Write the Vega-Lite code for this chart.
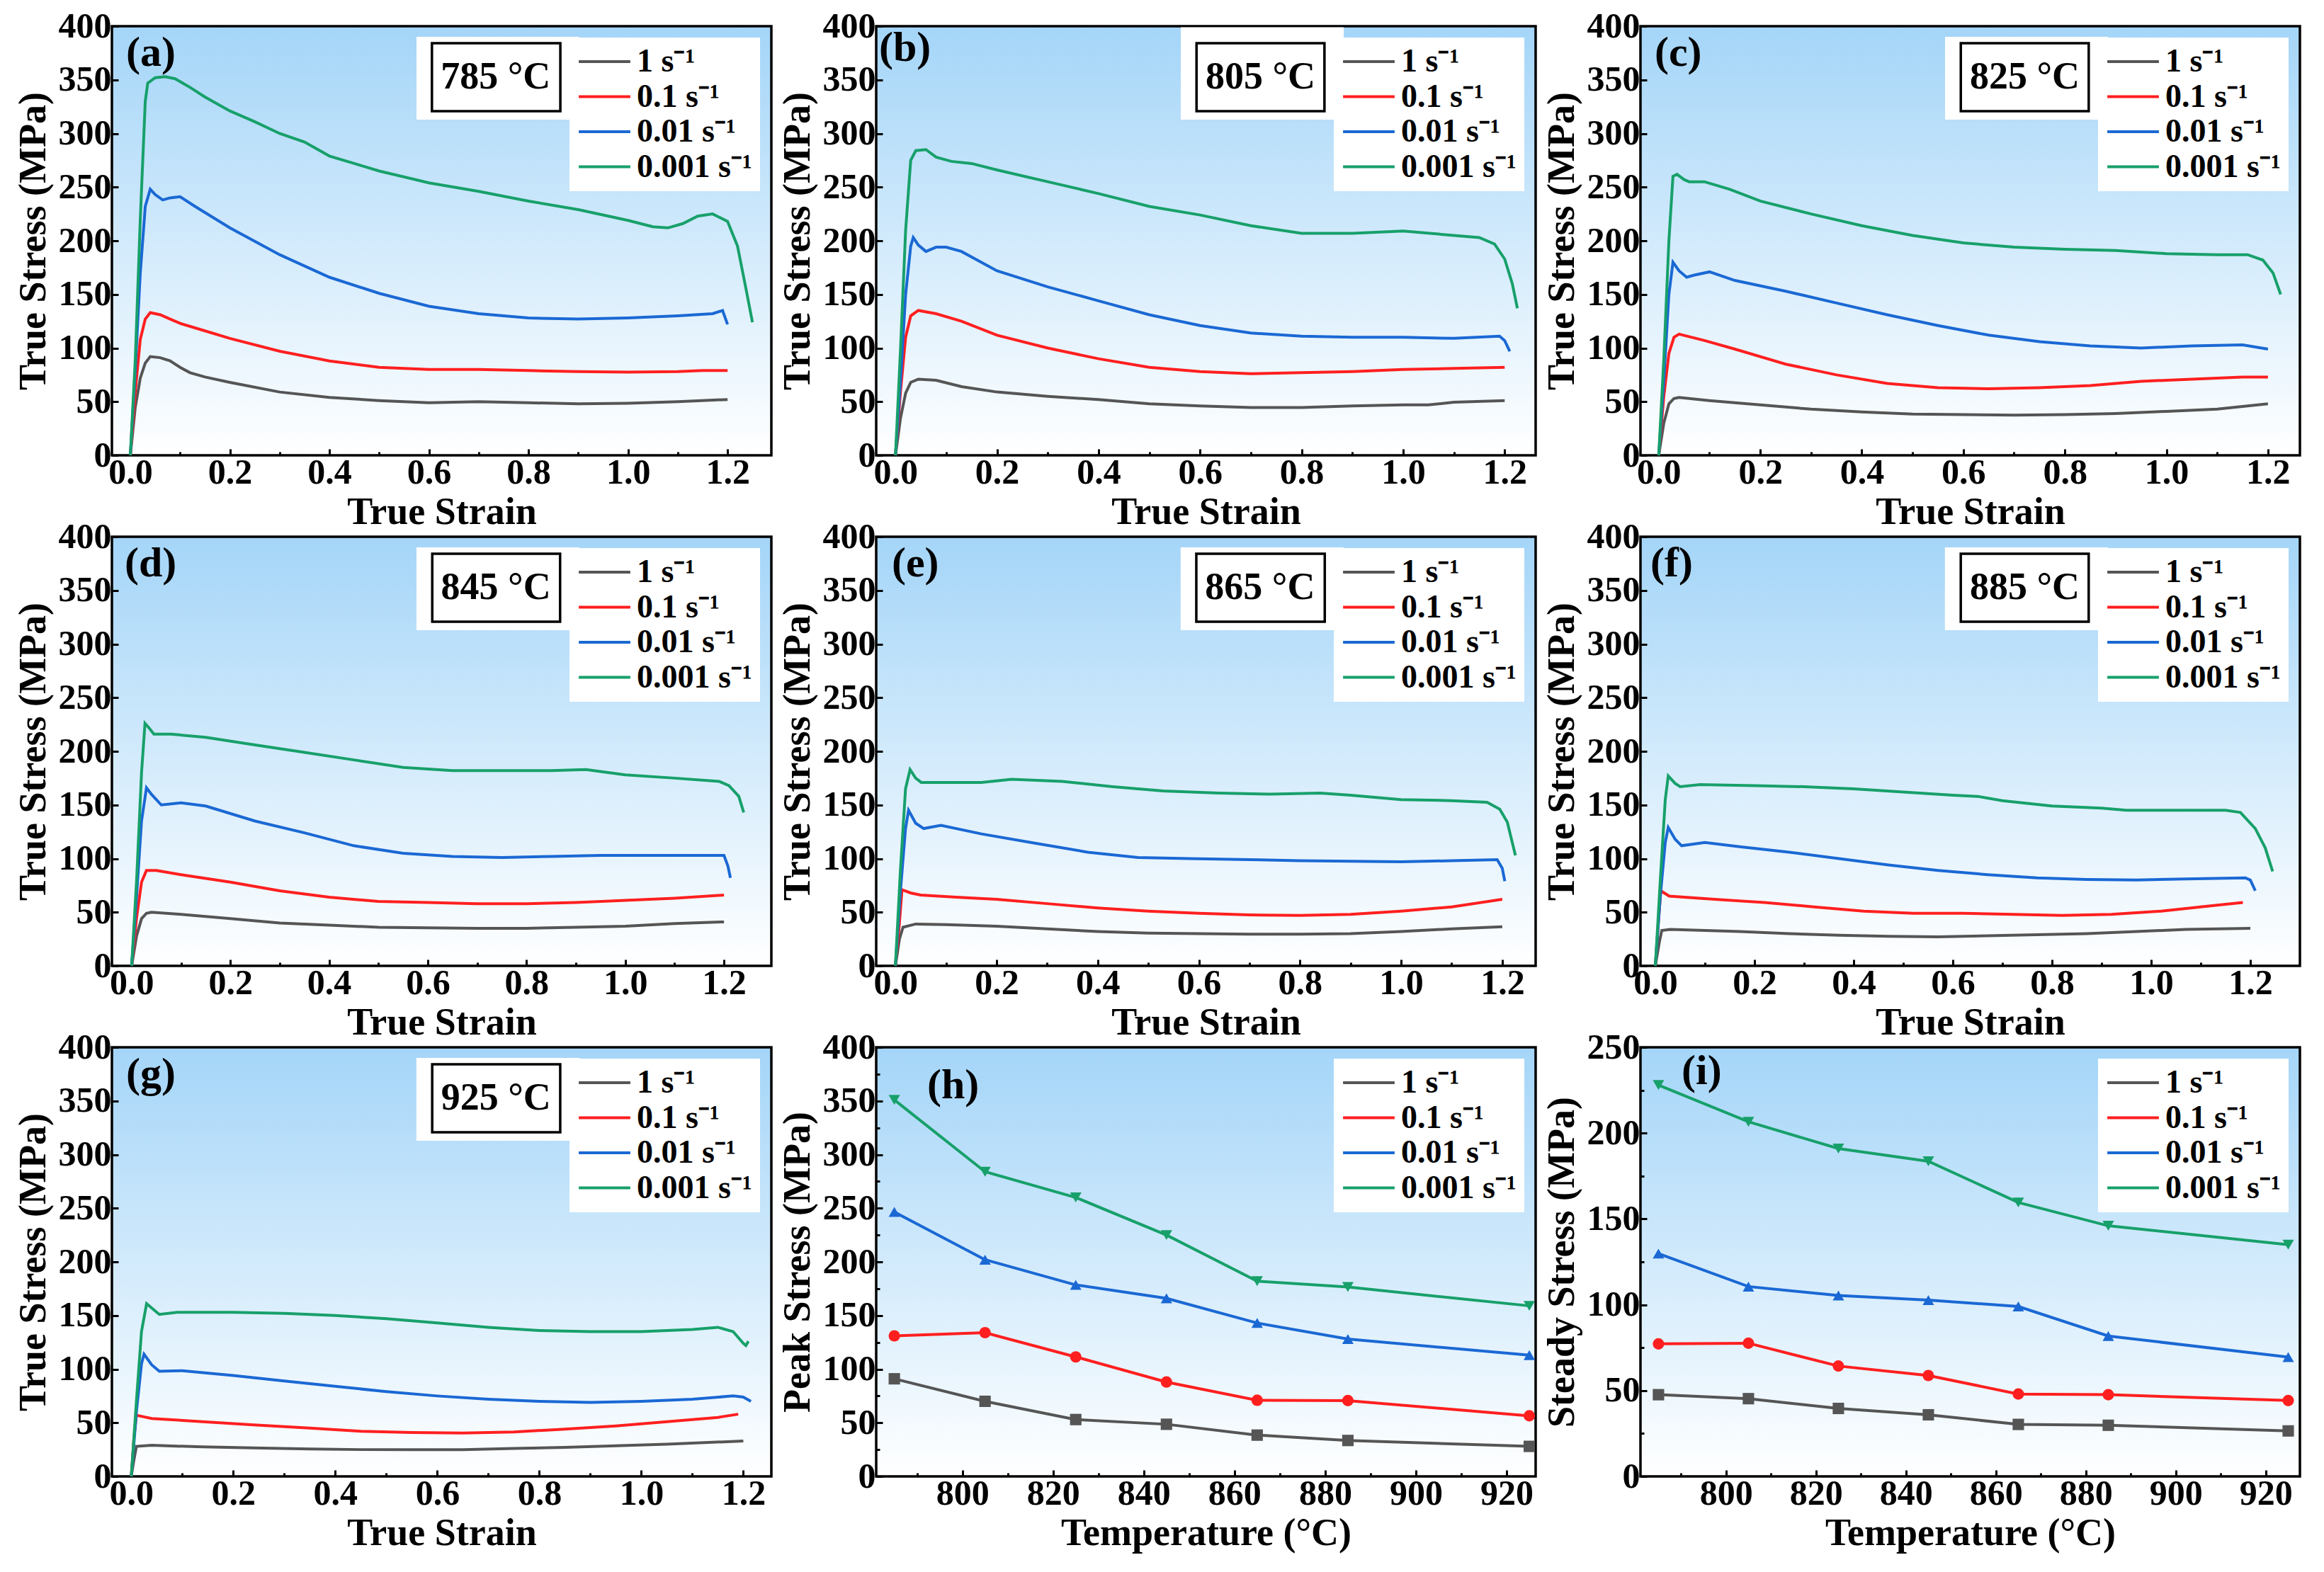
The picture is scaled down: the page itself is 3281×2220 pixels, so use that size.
{
  "$schema": "https://vega.github.io/schema/vega-lite/v6.json",
  "background": "white",
  "padding": {"left": 18, "top": 10, "right": 8, "bottom": 8},
  "columns": 3,
  "spacing": {"row": 115, "column": 148},
  "bounds": "flush",
  "resolve": {"scale": {"color": "independent", "shape": "independent"}, "legend": {"color": "independent"}},
  "datasets": {
    "a": [
      {"rate": "1 s⁻¹", "strain": 0, "stress": 0}, {"rate": "1 s⁻¹", "strain": 0.01, "stress": 45}, {"rate": "1 s⁻¹", "strain": 0.02, "stress": 72}, {"rate": "1 s⁻¹", "strain": 0.03, "stress": 86}, {"rate": "1 s⁻¹", "strain": 0.04, "stress": 92}, {"rate": "1 s⁻¹", "strain": 0.06, "stress": 91}, {"rate": "1 s⁻¹", "strain": 0.08, "stress": 88}, {"rate": "1 s⁻¹", "strain": 0.1, "stress": 82}, {"rate": "1 s⁻¹", "strain": 0.12, "stress": 77}, {"rate": "1 s⁻¹", "strain": 0.15, "stress": 73}, {"rate": "1 s⁻¹", "strain": 0.2, "stress": 68}, {"rate": "1 s⁻¹", "strain": 0.3, "stress": 59}, {"rate": "1 s⁻¹", "strain": 0.4, "stress": 54}, {"rate": "1 s⁻¹", "strain": 0.5, "stress": 51}, {"rate": "1 s⁻¹", "strain": 0.6, "stress": 49}, {"rate": "1 s⁻¹", "strain": 0.7, "stress": 50}, {"rate": "1 s⁻¹", "strain": 0.8, "stress": 49}, {"rate": "1 s⁻¹", "strain": 0.9, "stress": 48}, {"rate": "1 s⁻¹", "strain": 1.0, "stress": 48.5}, {"rate": "1 s⁻¹", "strain": 1.1, "stress": 50}, {"rate": "1 s⁻¹", "strain": 1.2, "stress": 52},
      {"rate": "0.1 s⁻¹", "strain": 0, "stress": 0}, {"rate": "0.1 s⁻¹", "strain": 0.01, "stress": 60}, {"rate": "0.1 s⁻¹", "strain": 0.02, "stress": 108}, {"rate": "0.1 s⁻¹", "strain": 0.03, "stress": 127}, {"rate": "0.1 s⁻¹", "strain": 0.04, "stress": 133}, {"rate": "0.1 s⁻¹", "strain": 0.06, "stress": 131}, {"rate": "0.1 s⁻¹", "strain": 0.08, "stress": 127}, {"rate": "0.1 s⁻¹", "strain": 0.1, "stress": 123}, {"rate": "0.1 s⁻¹", "strain": 0.15, "stress": 116}, {"rate": "0.1 s⁻¹", "strain": 0.2, "stress": 109}, {"rate": "0.1 s⁻¹", "strain": 0.3, "stress": 97}, {"rate": "0.1 s⁻¹", "strain": 0.4, "stress": 88}, {"rate": "0.1 s⁻¹", "strain": 0.5, "stress": 82}, {"rate": "0.1 s⁻¹", "strain": 0.6, "stress": 80}, {"rate": "0.1 s⁻¹", "strain": 0.7, "stress": 80}, {"rate": "0.1 s⁻¹", "strain": 0.8, "stress": 79}, {"rate": "0.1 s⁻¹", "strain": 0.9, "stress": 78}, {"rate": "0.1 s⁻¹", "strain": 1.0, "stress": 77.5}, {"rate": "0.1 s⁻¹", "strain": 1.1, "stress": 78}, {"rate": "0.1 s⁻¹", "strain": 1.15, "stress": 79}, {"rate": "0.1 s⁻¹", "strain": 1.2, "stress": 79},
      {"rate": "0.01 s⁻¹", "strain": 0, "stress": 0}, {"rate": "0.01 s⁻¹", "strain": 0.01, "stress": 80}, {"rate": "0.01 s⁻¹", "strain": 0.02, "stress": 170}, {"rate": "0.01 s⁻¹", "strain": 0.03, "stress": 232}, {"rate": "0.01 s⁻¹", "strain": 0.04, "stress": 248}, {"rate": "0.01 s⁻¹", "strain": 0.05, "stress": 243}, {"rate": "0.01 s⁻¹", "strain": 0.065, "stress": 238}, {"rate": "0.01 s⁻¹", "strain": 0.08, "stress": 240}, {"rate": "0.01 s⁻¹", "strain": 0.1, "stress": 241}, {"rate": "0.01 s⁻¹", "strain": 0.13, "stress": 232}, {"rate": "0.01 s⁻¹", "strain": 0.2, "stress": 212}, {"rate": "0.01 s⁻¹", "strain": 0.3, "stress": 187}, {"rate": "0.01 s⁻¹", "strain": 0.4, "stress": 166}, {"rate": "0.01 s⁻¹", "strain": 0.5, "stress": 151}, {"rate": "0.01 s⁻¹", "strain": 0.6, "stress": 139}, {"rate": "0.01 s⁻¹", "strain": 0.7, "stress": 132}, {"rate": "0.01 s⁻¹", "strain": 0.8, "stress": 128}, {"rate": "0.01 s⁻¹", "strain": 0.9, "stress": 127}, {"rate": "0.01 s⁻¹", "strain": 1.0, "stress": 128}, {"rate": "0.01 s⁻¹", "strain": 1.1, "stress": 130}, {"rate": "0.01 s⁻¹", "strain": 1.17, "stress": 132}, {"rate": "0.01 s⁻¹", "strain": 1.19, "stress": 135}, {"rate": "0.01 s⁻¹", "strain": 1.2, "stress": 122},
      {"rate": "0.001 s⁻¹", "strain": 0, "stress": 0}, {"rate": "0.001 s⁻¹", "strain": 0.01, "stress": 90}, {"rate": "0.001 s⁻¹", "strain": 0.02, "stress": 220}, {"rate": "0.001 s⁻¹", "strain": 0.03, "stress": 330}, {"rate": "0.001 s⁻¹", "strain": 0.035, "stress": 347}, {"rate": "0.001 s⁻¹", "strain": 0.05, "stress": 352}, {"rate": "0.001 s⁻¹", "strain": 0.07, "stress": 353}, {"rate": "0.001 s⁻¹", "strain": 0.09, "stress": 351}, {"rate": "0.001 s⁻¹", "strain": 0.12, "stress": 343}, {"rate": "0.001 s⁻¹", "strain": 0.15, "stress": 334}, {"rate": "0.001 s⁻¹", "strain": 0.2, "stress": 321}, {"rate": "0.001 s⁻¹", "strain": 0.25, "stress": 311}, {"rate": "0.001 s⁻¹", "strain": 0.3, "stress": 300}, {"rate": "0.001 s⁻¹", "strain": 0.35, "stress": 292}, {"rate": "0.001 s⁻¹", "strain": 0.4, "stress": 279}, {"rate": "0.001 s⁻¹", "strain": 0.45, "stress": 272}, {"rate": "0.001 s⁻¹", "strain": 0.5, "stress": 265}, {"rate": "0.001 s⁻¹", "strain": 0.6, "stress": 254}, {"rate": "0.001 s⁻¹", "strain": 0.7, "stress": 246}, {"rate": "0.001 s⁻¹", "strain": 0.8, "stress": 237}, {"rate": "0.001 s⁻¹", "strain": 0.9, "stress": 229}, {"rate": "0.001 s⁻¹", "strain": 1.0, "stress": 219}, {"rate": "0.001 s⁻¹", "strain": 1.05, "stress": 213}, {"rate": "0.001 s⁻¹", "strain": 1.08, "stress": 212}, {"rate": "0.001 s⁻¹", "strain": 1.11, "stress": 216}, {"rate": "0.001 s⁻¹", "strain": 1.14, "stress": 223}, {"rate": "0.001 s⁻¹", "strain": 1.17, "stress": 225}, {"rate": "0.001 s⁻¹", "strain": 1.2, "stress": 218}, {"rate": "0.001 s⁻¹", "strain": 1.22, "stress": 195}, {"rate": "0.001 s⁻¹", "strain": 1.235, "stress": 160}, {"rate": "0.001 s⁻¹", "strain": 1.25, "stress": 124}
    ],
    "b": [
      {"rate": "1 s⁻¹", "strain": 0, "stress": 0}, {"rate": "1 s⁻¹", "strain": 0.01, "stress": 35}, {"rate": "1 s⁻¹", "strain": 0.02, "stress": 58}, {"rate": "1 s⁻¹", "strain": 0.03, "stress": 68}, {"rate": "1 s⁻¹", "strain": 0.045, "stress": 71}, {"rate": "1 s⁻¹", "strain": 0.08, "stress": 70}, {"rate": "1 s⁻¹", "strain": 0.13, "stress": 64}, {"rate": "1 s⁻¹", "strain": 0.2, "stress": 59}, {"rate": "1 s⁻¹", "strain": 0.3, "stress": 55}, {"rate": "1 s⁻¹", "strain": 0.4, "stress": 52}, {"rate": "1 s⁻¹", "strain": 0.5, "stress": 48}, {"rate": "1 s⁻¹", "strain": 0.6, "stress": 46}, {"rate": "1 s⁻¹", "strain": 0.7, "stress": 44.5}, {"rate": "1 s⁻¹", "strain": 0.8, "stress": 44.5}, {"rate": "1 s⁻¹", "strain": 0.9, "stress": 46}, {"rate": "1 s⁻¹", "strain": 1.0, "stress": 47}, {"rate": "1 s⁻¹", "strain": 1.05, "stress": 47}, {"rate": "1 s⁻¹", "strain": 1.1, "stress": 49.5}, {"rate": "1 s⁻¹", "strain": 1.2, "stress": 51},
      {"rate": "0.1 s⁻¹", "strain": 0, "stress": 0}, {"rate": "0.1 s⁻¹", "strain": 0.01, "stress": 60}, {"rate": "0.1 s⁻¹", "strain": 0.02, "stress": 110}, {"rate": "0.1 s⁻¹", "strain": 0.03, "stress": 130}, {"rate": "0.1 s⁻¹", "strain": 0.045, "stress": 135}, {"rate": "0.1 s⁻¹", "strain": 0.08, "stress": 132}, {"rate": "0.1 s⁻¹", "strain": 0.13, "stress": 125}, {"rate": "0.1 s⁻¹", "strain": 0.2, "stress": 112}, {"rate": "0.1 s⁻¹", "strain": 0.3, "stress": 100}, {"rate": "0.1 s⁻¹", "strain": 0.4, "stress": 90}, {"rate": "0.1 s⁻¹", "strain": 0.5, "stress": 82}, {"rate": "0.1 s⁻¹", "strain": 0.6, "stress": 78}, {"rate": "0.1 s⁻¹", "strain": 0.7, "stress": 76}, {"rate": "0.1 s⁻¹", "strain": 0.8, "stress": 77}, {"rate": "0.1 s⁻¹", "strain": 0.9, "stress": 78}, {"rate": "0.1 s⁻¹", "strain": 1.0, "stress": 80}, {"rate": "0.1 s⁻¹", "strain": 1.1, "stress": 81}, {"rate": "0.1 s⁻¹", "strain": 1.2, "stress": 82},
      {"rate": "0.01 s⁻¹", "strain": 0, "stress": 0}, {"rate": "0.01 s⁻¹", "strain": 0.01, "stress": 70}, {"rate": "0.01 s⁻¹", "strain": 0.02, "stress": 150}, {"rate": "0.01 s⁻¹", "strain": 0.03, "stress": 195}, {"rate": "0.01 s⁻¹", "strain": 0.035, "stress": 203}, {"rate": "0.01 s⁻¹", "strain": 0.045, "stress": 196}, {"rate": "0.01 s⁻¹", "strain": 0.06, "stress": 190}, {"rate": "0.01 s⁻¹", "strain": 0.08, "stress": 194}, {"rate": "0.01 s⁻¹", "strain": 0.1, "stress": 194}, {"rate": "0.01 s⁻¹", "strain": 0.13, "stress": 190}, {"rate": "0.01 s⁻¹", "strain": 0.2, "stress": 172}, {"rate": "0.01 s⁻¹", "strain": 0.3, "stress": 157}, {"rate": "0.01 s⁻¹", "strain": 0.4, "stress": 144}, {"rate": "0.01 s⁻¹", "strain": 0.5, "stress": 131}, {"rate": "0.01 s⁻¹", "strain": 0.6, "stress": 121}, {"rate": "0.01 s⁻¹", "strain": 0.7, "stress": 114}, {"rate": "0.01 s⁻¹", "strain": 0.8, "stress": 111}, {"rate": "0.01 s⁻¹", "strain": 0.9, "stress": 110}, {"rate": "0.01 s⁻¹", "strain": 1.0, "stress": 110}, {"rate": "0.01 s⁻¹", "strain": 1.1, "stress": 109}, {"rate": "0.01 s⁻¹", "strain": 1.19, "stress": 111}, {"rate": "0.01 s⁻¹", "strain": 1.2, "stress": 107}, {"rate": "0.01 s⁻¹", "strain": 1.21, "stress": 97},
      {"rate": "0.001 s⁻¹", "strain": 0, "stress": 0}, {"rate": "0.001 s⁻¹", "strain": 0.01, "stress": 100}, {"rate": "0.001 s⁻¹", "strain": 0.02, "stress": 210}, {"rate": "0.001 s⁻¹", "strain": 0.03, "stress": 275}, {"rate": "0.001 s⁻¹", "strain": 0.04, "stress": 284}, {"rate": "0.001 s⁻¹", "strain": 0.06, "stress": 285}, {"rate": "0.001 s⁻¹", "strain": 0.08, "stress": 278}, {"rate": "0.001 s⁻¹", "strain": 0.11, "stress": 274}, {"rate": "0.001 s⁻¹", "strain": 0.15, "stress": 272}, {"rate": "0.001 s⁻¹", "strain": 0.2, "stress": 266}, {"rate": "0.001 s⁻¹", "strain": 0.3, "stress": 255}, {"rate": "0.001 s⁻¹", "strain": 0.4, "stress": 244}, {"rate": "0.001 s⁻¹", "strain": 0.5, "stress": 232}, {"rate": "0.001 s⁻¹", "strain": 0.6, "stress": 224}, {"rate": "0.001 s⁻¹", "strain": 0.7, "stress": 214}, {"rate": "0.001 s⁻¹", "strain": 0.8, "stress": 207}, {"rate": "0.001 s⁻¹", "strain": 0.9, "stress": 207}, {"rate": "0.001 s⁻¹", "strain": 1.0, "stress": 209}, {"rate": "0.001 s⁻¹", "strain": 1.1, "stress": 205}, {"rate": "0.001 s⁻¹", "strain": 1.15, "stress": 203}, {"rate": "0.001 s⁻¹", "strain": 1.18, "stress": 197}, {"rate": "0.001 s⁻¹", "strain": 1.2, "stress": 183}, {"rate": "0.001 s⁻¹", "strain": 1.215, "stress": 160}, {"rate": "0.001 s⁻¹", "strain": 1.225, "stress": 137}
    ],
    "c": [
      {"rate": "1 s⁻¹", "strain": 0, "stress": 0}, {"rate": "1 s⁻¹", "strain": 0.01, "stress": 30}, {"rate": "1 s⁻¹", "strain": 0.02, "stress": 48}, {"rate": "1 s⁻¹", "strain": 0.03, "stress": 53}, {"rate": "1 s⁻¹", "strain": 0.04, "stress": 54}, {"rate": "1 s⁻¹", "strain": 0.1, "stress": 51}, {"rate": "1 s⁻¹", "strain": 0.2, "stress": 47}, {"rate": "1 s⁻¹", "strain": 0.3, "stress": 43}, {"rate": "1 s⁻¹", "strain": 0.4, "stress": 40.5}, {"rate": "1 s⁻¹", "strain": 0.5, "stress": 38.5}, {"rate": "1 s⁻¹", "strain": 0.6, "stress": 38}, {"rate": "1 s⁻¹", "strain": 0.7, "stress": 37.5}, {"rate": "1 s⁻¹", "strain": 0.8, "stress": 38}, {"rate": "1 s⁻¹", "strain": 0.9, "stress": 39}, {"rate": "1 s⁻¹", "strain": 1.0, "stress": 41}, {"rate": "1 s⁻¹", "strain": 1.1, "stress": 43}, {"rate": "1 s⁻¹", "strain": 1.2, "stress": 48},
      {"rate": "0.1 s⁻¹", "strain": 0, "stress": 0}, {"rate": "0.1 s⁻¹", "strain": 0.01, "stress": 55}, {"rate": "0.1 s⁻¹", "strain": 0.02, "stress": 95}, {"rate": "0.1 s⁻¹", "strain": 0.03, "stress": 110}, {"rate": "0.1 s⁻¹", "strain": 0.04, "stress": 113}, {"rate": "0.1 s⁻¹", "strain": 0.09, "stress": 107}, {"rate": "0.1 s⁻¹", "strain": 0.15, "stress": 99}, {"rate": "0.1 s⁻¹", "strain": 0.25, "stress": 85}, {"rate": "0.1 s⁻¹", "strain": 0.35, "stress": 75}, {"rate": "0.1 s⁻¹", "strain": 0.45, "stress": 67}, {"rate": "0.1 s⁻¹", "strain": 0.55, "stress": 63}, {"rate": "0.1 s⁻¹", "strain": 0.65, "stress": 62}, {"rate": "0.1 s⁻¹", "strain": 0.75, "stress": 63}, {"rate": "0.1 s⁻¹", "strain": 0.85, "stress": 65}, {"rate": "0.1 s⁻¹", "strain": 0.95, "stress": 69}, {"rate": "0.1 s⁻¹", "strain": 1.05, "stress": 71}, {"rate": "0.1 s⁻¹", "strain": 1.15, "stress": 73}, {"rate": "0.1 s⁻¹", "strain": 1.2, "stress": 73},
      {"rate": "0.01 s⁻¹", "strain": 0, "stress": 0}, {"rate": "0.01 s⁻¹", "strain": 0.01, "stress": 70}, {"rate": "0.01 s⁻¹", "strain": 0.02, "stress": 150}, {"rate": "0.01 s⁻¹", "strain": 0.028, "stress": 180}, {"rate": "0.01 s⁻¹", "strain": 0.04, "stress": 172}, {"rate": "0.01 s⁻¹", "strain": 0.055, "stress": 166}, {"rate": "0.01 s⁻¹", "strain": 0.07, "stress": 168}, {"rate": "0.01 s⁻¹", "strain": 0.1, "stress": 171}, {"rate": "0.01 s⁻¹", "strain": 0.15, "stress": 163}, {"rate": "0.01 s⁻¹", "strain": 0.25, "stress": 153}, {"rate": "0.01 s⁻¹", "strain": 0.35, "stress": 142}, {"rate": "0.01 s⁻¹", "strain": 0.45, "stress": 131}, {"rate": "0.01 s⁻¹", "strain": 0.55, "stress": 121}, {"rate": "0.01 s⁻¹", "strain": 0.65, "stress": 112}, {"rate": "0.01 s⁻¹", "strain": 0.75, "stress": 106}, {"rate": "0.01 s⁻¹", "strain": 0.85, "stress": 102}, {"rate": "0.01 s⁻¹", "strain": 0.95, "stress": 100}, {"rate": "0.01 s⁻¹", "strain": 1.05, "stress": 102}, {"rate": "0.01 s⁻¹", "strain": 1.15, "stress": 103}, {"rate": "0.01 s⁻¹", "strain": 1.2, "stress": 99},
      {"rate": "0.001 s⁻¹", "strain": 0, "stress": 0}, {"rate": "0.001 s⁻¹", "strain": 0.01, "stress": 90}, {"rate": "0.001 s⁻¹", "strain": 0.02, "stress": 200}, {"rate": "0.001 s⁻¹", "strain": 0.028, "stress": 260}, {"rate": "0.001 s⁻¹", "strain": 0.036, "stress": 262}, {"rate": "0.001 s⁻¹", "strain": 0.05, "stress": 257}, {"rate": "0.001 s⁻¹", "strain": 0.06, "stress": 255}, {"rate": "0.001 s⁻¹", "strain": 0.09, "stress": 255}, {"rate": "0.001 s⁻¹", "strain": 0.14, "stress": 248}, {"rate": "0.001 s⁻¹", "strain": 0.2, "stress": 237}, {"rate": "0.001 s⁻¹", "strain": 0.3, "stress": 225}, {"rate": "0.001 s⁻¹", "strain": 0.4, "stress": 214}, {"rate": "0.001 s⁻¹", "strain": 0.5, "stress": 205}, {"rate": "0.001 s⁻¹", "strain": 0.6, "stress": 198}, {"rate": "0.001 s⁻¹", "strain": 0.7, "stress": 194}, {"rate": "0.001 s⁻¹", "strain": 0.8, "stress": 192}, {"rate": "0.001 s⁻¹", "strain": 0.9, "stress": 191}, {"rate": "0.001 s⁻¹", "strain": 1.0, "stress": 188}, {"rate": "0.001 s⁻¹", "strain": 1.1, "stress": 187}, {"rate": "0.001 s⁻¹", "strain": 1.16, "stress": 187}, {"rate": "0.001 s⁻¹", "strain": 1.19, "stress": 182}, {"rate": "0.001 s⁻¹", "strain": 1.21, "stress": 170}, {"rate": "0.001 s⁻¹", "strain": 1.225, "stress": 150}
    ],
    "d": [
      {"rate": "1 s⁻¹", "strain": 0, "stress": 0}, {"rate": "1 s⁻¹", "strain": 0.01, "stress": 28}, {"rate": "1 s⁻¹", "strain": 0.02, "stress": 44}, {"rate": "1 s⁻¹", "strain": 0.03, "stress": 49}, {"rate": "1 s⁻¹", "strain": 0.04, "stress": 50}, {"rate": "1 s⁻¹", "strain": 0.1, "stress": 48}, {"rate": "1 s⁻¹", "strain": 0.2, "stress": 44}, {"rate": "1 s⁻¹", "strain": 0.3, "stress": 40}, {"rate": "1 s⁻¹", "strain": 0.4, "stress": 38}, {"rate": "1 s⁻¹", "strain": 0.5, "stress": 36}, {"rate": "1 s⁻¹", "strain": 0.6, "stress": 35.5}, {"rate": "1 s⁻¹", "strain": 0.7, "stress": 35}, {"rate": "1 s⁻¹", "strain": 0.8, "stress": 35}, {"rate": "1 s⁻¹", "strain": 0.9, "stress": 36}, {"rate": "1 s⁻¹", "strain": 1.0, "stress": 37}, {"rate": "1 s⁻¹", "strain": 1.1, "stress": 39.5}, {"rate": "1 s⁻¹", "strain": 1.2, "stress": 41},
      {"rate": "0.1 s⁻¹", "strain": 0, "stress": 0}, {"rate": "0.1 s⁻¹", "strain": 0.01, "stress": 45}, {"rate": "0.1 s⁻¹", "strain": 0.02, "stress": 78}, {"rate": "0.1 s⁻¹", "strain": 0.03, "stress": 89}, {"rate": "0.1 s⁻¹", "strain": 0.05, "stress": 89}, {"rate": "0.1 s⁻¹", "strain": 0.1, "stress": 85}, {"rate": "0.1 s⁻¹", "strain": 0.2, "stress": 78}, {"rate": "0.1 s⁻¹", "strain": 0.3, "stress": 70}, {"rate": "0.1 s⁻¹", "strain": 0.4, "stress": 64}, {"rate": "0.1 s⁻¹", "strain": 0.5, "stress": 60}, {"rate": "0.1 s⁻¹", "strain": 0.6, "stress": 59}, {"rate": "0.1 s⁻¹", "strain": 0.7, "stress": 58}, {"rate": "0.1 s⁻¹", "strain": 0.8, "stress": 58}, {"rate": "0.1 s⁻¹", "strain": 0.9, "stress": 59}, {"rate": "0.1 s⁻¹", "strain": 1.0, "stress": 61}, {"rate": "0.1 s⁻¹", "strain": 1.1, "stress": 63}, {"rate": "0.1 s⁻¹", "strain": 1.2, "stress": 66},
      {"rate": "0.01 s⁻¹", "strain": 0, "stress": 0}, {"rate": "0.01 s⁻¹", "strain": 0.01, "stress": 65}, {"rate": "0.01 s⁻¹", "strain": 0.02, "stress": 135}, {"rate": "0.01 s⁻¹", "strain": 0.03, "stress": 166}, {"rate": "0.01 s⁻¹", "strain": 0.04, "stress": 160}, {"rate": "0.01 s⁻¹", "strain": 0.06, "stress": 150}, {"rate": "0.01 s⁻¹", "strain": 0.08, "stress": 151}, {"rate": "0.01 s⁻¹", "strain": 0.1, "stress": 152}, {"rate": "0.01 s⁻¹", "strain": 0.15, "stress": 149}, {"rate": "0.01 s⁻¹", "strain": 0.25, "stress": 135}, {"rate": "0.01 s⁻¹", "strain": 0.35, "stress": 124}, {"rate": "0.01 s⁻¹", "strain": 0.45, "stress": 112}, {"rate": "0.01 s⁻¹", "strain": 0.55, "stress": 105}, {"rate": "0.01 s⁻¹", "strain": 0.65, "stress": 102}, {"rate": "0.01 s⁻¹", "strain": 0.75, "stress": 101}, {"rate": "0.01 s⁻¹", "strain": 0.85, "stress": 102}, {"rate": "0.01 s⁻¹", "strain": 0.95, "stress": 103}, {"rate": "0.01 s⁻¹", "strain": 1.05, "stress": 103}, {"rate": "0.01 s⁻¹", "strain": 1.15, "stress": 103}, {"rate": "0.01 s⁻¹", "strain": 1.2, "stress": 103}, {"rate": "0.01 s⁻¹", "strain": 1.208, "stress": 93}, {"rate": "0.01 s⁻¹", "strain": 1.213, "stress": 82},
      {"rate": "0.001 s⁻¹", "strain": 0, "stress": 0}, {"rate": "0.001 s⁻¹", "strain": 0.01, "stress": 80}, {"rate": "0.001 s⁻¹", "strain": 0.02, "stress": 180}, {"rate": "0.001 s⁻¹", "strain": 0.027, "stress": 226}, {"rate": "0.001 s⁻¹", "strain": 0.035, "stress": 222}, {"rate": "0.001 s⁻¹", "strain": 0.045, "stress": 216}, {"rate": "0.001 s⁻¹", "strain": 0.08, "stress": 216}, {"rate": "0.001 s⁻¹", "strain": 0.15, "stress": 213}, {"rate": "0.001 s⁻¹", "strain": 0.25, "stress": 206}, {"rate": "0.001 s⁻¹", "strain": 0.35, "stress": 199}, {"rate": "0.001 s⁻¹", "strain": 0.45, "stress": 192}, {"rate": "0.001 s⁻¹", "strain": 0.55, "stress": 185}, {"rate": "0.001 s⁻¹", "strain": 0.65, "stress": 182}, {"rate": "0.001 s⁻¹", "strain": 0.75, "stress": 182}, {"rate": "0.001 s⁻¹", "strain": 0.85, "stress": 182}, {"rate": "0.001 s⁻¹", "strain": 0.92, "stress": 183}, {"rate": "0.001 s⁻¹", "strain": 1.0, "stress": 178}, {"rate": "0.001 s⁻¹", "strain": 1.1, "stress": 175}, {"rate": "0.001 s⁻¹", "strain": 1.19, "stress": 172}, {"rate": "0.001 s⁻¹", "strain": 1.21, "stress": 168}, {"rate": "0.001 s⁻¹", "strain": 1.23, "stress": 158}, {"rate": "0.001 s⁻¹", "strain": 1.24, "stress": 143}
    ],
    "e": [
      {"rate": "1 s⁻¹", "strain": 0, "stress": 0}, {"rate": "1 s⁻¹", "strain": 0.008, "stress": 25}, {"rate": "1 s⁻¹", "strain": 0.015, "stress": 36}, {"rate": "1 s⁻¹", "strain": 0.04, "stress": 39}, {"rate": "1 s⁻¹", "strain": 0.1, "stress": 38.5}, {"rate": "1 s⁻¹", "strain": 0.2, "stress": 37}, {"rate": "1 s⁻¹", "strain": 0.3, "stress": 34.5}, {"rate": "1 s⁻¹", "strain": 0.4, "stress": 32}, {"rate": "1 s⁻¹", "strain": 0.5, "stress": 30.5}, {"rate": "1 s⁻¹", "strain": 0.6, "stress": 30}, {"rate": "1 s⁻¹", "strain": 0.7, "stress": 29.5}, {"rate": "1 s⁻¹", "strain": 0.8, "stress": 29.5}, {"rate": "1 s⁻¹", "strain": 0.9, "stress": 30}, {"rate": "1 s⁻¹", "strain": 1.0, "stress": 32}, {"rate": "1 s⁻¹", "strain": 1.1, "stress": 34.5}, {"rate": "1 s⁻¹", "strain": 1.2, "stress": 36.5},
      {"rate": "0.1 s⁻¹", "strain": 0, "stress": 0}, {"rate": "0.1 s⁻¹", "strain": 0.008, "stress": 40}, {"rate": "0.1 s⁻¹", "strain": 0.013, "stress": 71}, {"rate": "0.1 s⁻¹", "strain": 0.03, "stress": 68}, {"rate": "0.1 s⁻¹", "strain": 0.05, "stress": 66}, {"rate": "0.1 s⁻¹", "strain": 0.12, "stress": 64}, {"rate": "0.1 s⁻¹", "strain": 0.2, "stress": 62}, {"rate": "0.1 s⁻¹", "strain": 0.3, "stress": 58}, {"rate": "0.1 s⁻¹", "strain": 0.4, "stress": 54}, {"rate": "0.1 s⁻¹", "strain": 0.5, "stress": 51}, {"rate": "0.1 s⁻¹", "strain": 0.6, "stress": 49}, {"rate": "0.1 s⁻¹", "strain": 0.7, "stress": 47.5}, {"rate": "0.1 s⁻¹", "strain": 0.8, "stress": 47}, {"rate": "0.1 s⁻¹", "strain": 0.9, "stress": 48}, {"rate": "0.1 s⁻¹", "strain": 1.0, "stress": 51}, {"rate": "0.1 s⁻¹", "strain": 1.1, "stress": 55}, {"rate": "0.1 s⁻¹", "strain": 1.2, "stress": 62},
      {"rate": "0.01 s⁻¹", "strain": 0, "stress": 0}, {"rate": "0.01 s⁻¹", "strain": 0.01, "stress": 70}, {"rate": "0.01 s⁻¹", "strain": 0.02, "stress": 128}, {"rate": "0.01 s⁻¹", "strain": 0.026, "stress": 145}, {"rate": "0.01 s⁻¹", "strain": 0.04, "stress": 133}, {"rate": "0.01 s⁻¹", "strain": 0.056, "stress": 128}, {"rate": "0.01 s⁻¹", "strain": 0.09, "stress": 131}, {"rate": "0.01 s⁻¹", "strain": 0.17, "stress": 123}, {"rate": "0.01 s⁻¹", "strain": 0.28, "stress": 114}, {"rate": "0.01 s⁻¹", "strain": 0.38, "stress": 106}, {"rate": "0.01 s⁻¹", "strain": 0.48, "stress": 101}, {"rate": "0.01 s⁻¹", "strain": 0.58, "stress": 100}, {"rate": "0.01 s⁻¹", "strain": 0.7, "stress": 99}, {"rate": "0.01 s⁻¹", "strain": 0.8, "stress": 98}, {"rate": "0.01 s⁻¹", "strain": 0.9, "stress": 97.5}, {"rate": "0.01 s⁻¹", "strain": 1.0, "stress": 97}, {"rate": "0.01 s⁻¹", "strain": 1.1, "stress": 98}, {"rate": "0.01 s⁻¹", "strain": 1.19, "stress": 99}, {"rate": "0.01 s⁻¹", "strain": 1.2, "stress": 91}, {"rate": "0.01 s⁻¹", "strain": 1.205, "stress": 79},
      {"rate": "0.001 s⁻¹", "strain": 0, "stress": 0}, {"rate": "0.001 s⁻¹", "strain": 0.01, "stress": 90}, {"rate": "0.001 s⁻¹", "strain": 0.02, "stress": 165}, {"rate": "0.001 s⁻¹", "strain": 0.029, "stress": 183}, {"rate": "0.001 s⁻¹", "strain": 0.04, "stress": 175}, {"rate": "0.001 s⁻¹", "strain": 0.051, "stress": 171}, {"rate": "0.001 s⁻¹", "strain": 0.1, "stress": 171}, {"rate": "0.001 s⁻¹", "strain": 0.17, "stress": 171}, {"rate": "0.001 s⁻¹", "strain": 0.23, "stress": 174}, {"rate": "0.001 s⁻¹", "strain": 0.33, "stress": 172}, {"rate": "0.001 s⁻¹", "strain": 0.43, "stress": 167}, {"rate": "0.001 s⁻¹", "strain": 0.53, "stress": 163}, {"rate": "0.001 s⁻¹", "strain": 0.64, "stress": 161}, {"rate": "0.001 s⁻¹", "strain": 0.74, "stress": 160}, {"rate": "0.001 s⁻¹", "strain": 0.84, "stress": 161}, {"rate": "0.001 s⁻¹", "strain": 0.9, "stress": 159}, {"rate": "0.001 s⁻¹", "strain": 1.0, "stress": 155}, {"rate": "0.001 s⁻¹", "strain": 1.1, "stress": 154}, {"rate": "0.001 s⁻¹", "strain": 1.17, "stress": 152.5}, {"rate": "0.001 s⁻¹", "strain": 1.195, "stress": 146}, {"rate": "0.001 s⁻¹", "strain": 1.21, "stress": 134}, {"rate": "0.001 s⁻¹", "strain": 1.226, "stress": 103}
    ],
    "f": [
      {"rate": "1 s⁻¹", "strain": 0, "stress": 0}, {"rate": "1 s⁻¹", "strain": 0.008, "stress": 22}, {"rate": "1 s⁻¹", "strain": 0.013, "stress": 33}, {"rate": "1 s⁻¹", "strain": 0.03, "stress": 34}, {"rate": "1 s⁻¹", "strain": 0.17, "stress": 32}, {"rate": "1 s⁻¹", "strain": 0.27, "stress": 30}, {"rate": "1 s⁻¹", "strain": 0.37, "stress": 28.5}, {"rate": "1 s⁻¹", "strain": 0.47, "stress": 27.5}, {"rate": "1 s⁻¹", "strain": 0.57, "stress": 27}, {"rate": "1 s⁻¹", "strain": 0.67, "stress": 28}, {"rate": "1 s⁻¹", "strain": 0.77, "stress": 29}, {"rate": "1 s⁻¹", "strain": 0.87, "stress": 30}, {"rate": "1 s⁻¹", "strain": 0.97, "stress": 32}, {"rate": "1 s⁻¹", "strain": 1.07, "stress": 34}, {"rate": "1 s⁻¹", "strain": 1.2, "stress": 35},
      {"rate": "0.1 s⁻¹", "strain": 0, "stress": 0}, {"rate": "0.1 s⁻¹", "strain": 0.006, "stress": 40}, {"rate": "0.1 s⁻¹", "strain": 0.011, "stress": 70}, {"rate": "0.1 s⁻¹", "strain": 0.028, "stress": 65}, {"rate": "0.1 s⁻¹", "strain": 0.12, "stress": 62}, {"rate": "0.1 s⁻¹", "strain": 0.22, "stress": 59}, {"rate": "0.1 s⁻¹", "strain": 0.32, "stress": 55}, {"rate": "0.1 s⁻¹", "strain": 0.42, "stress": 51}, {"rate": "0.1 s⁻¹", "strain": 0.52, "stress": 49}, {"rate": "0.1 s⁻¹", "strain": 0.62, "stress": 49}, {"rate": "0.1 s⁻¹", "strain": 0.72, "stress": 48}, {"rate": "0.1 s⁻¹", "strain": 0.82, "stress": 47}, {"rate": "0.1 s⁻¹", "strain": 0.92, "stress": 48}, {"rate": "0.1 s⁻¹", "strain": 1.02, "stress": 51}, {"rate": "0.1 s⁻¹", "strain": 1.12, "stress": 56}, {"rate": "0.1 s⁻¹", "strain": 1.185, "stress": 59},
      {"rate": "0.01 s⁻¹", "strain": 0, "stress": 0}, {"rate": "0.01 s⁻¹", "strain": 0.01, "stress": 65}, {"rate": "0.01 s⁻¹", "strain": 0.02, "stress": 115}, {"rate": "0.01 s⁻¹", "strain": 0.026, "stress": 129}, {"rate": "0.01 s⁻¹", "strain": 0.04, "stress": 118}, {"rate": "0.01 s⁻¹", "strain": 0.053, "stress": 112}, {"rate": "0.01 s⁻¹", "strain": 0.1, "stress": 115}, {"rate": "0.01 s⁻¹", "strain": 0.17, "stress": 111}, {"rate": "0.01 s⁻¹", "strain": 0.27, "stress": 106}, {"rate": "0.01 s⁻¹", "strain": 0.37, "stress": 100}, {"rate": "0.01 s⁻¹", "strain": 0.47, "stress": 94}, {"rate": "0.01 s⁻¹", "strain": 0.57, "stress": 89}, {"rate": "0.01 s⁻¹", "strain": 0.67, "stress": 85}, {"rate": "0.01 s⁻¹", "strain": 0.77, "stress": 82}, {"rate": "0.01 s⁻¹", "strain": 0.87, "stress": 80.5}, {"rate": "0.01 s⁻¹", "strain": 0.97, "stress": 80}, {"rate": "0.01 s⁻¹", "strain": 1.07, "stress": 81}, {"rate": "0.01 s⁻¹", "strain": 1.19, "stress": 82}, {"rate": "0.01 s⁻¹", "strain": 1.2, "stress": 80}, {"rate": "0.01 s⁻¹", "strain": 1.21, "stress": 70},
      {"rate": "0.001 s⁻¹", "strain": 0, "stress": 0}, {"rate": "0.001 s⁻¹", "strain": 0.01, "stress": 80}, {"rate": "0.001 s⁻¹", "strain": 0.02, "stress": 155}, {"rate": "0.001 s⁻¹", "strain": 0.026, "stress": 177}, {"rate": "0.001 s⁻¹", "strain": 0.04, "stress": 170}, {"rate": "0.001 s⁻¹", "strain": 0.05, "stress": 167}, {"rate": "0.001 s⁻¹", "strain": 0.09, "stress": 169}, {"rate": "0.001 s⁻¹", "strain": 0.2, "stress": 168}, {"rate": "0.001 s⁻¹", "strain": 0.3, "stress": 167}, {"rate": "0.001 s⁻¹", "strain": 0.4, "stress": 165}, {"rate": "0.001 s⁻¹", "strain": 0.5, "stress": 162}, {"rate": "0.001 s⁻¹", "strain": 0.6, "stress": 159}, {"rate": "0.001 s⁻¹", "strain": 0.65, "stress": 158}, {"rate": "0.001 s⁻¹", "strain": 0.7, "stress": 154}, {"rate": "0.001 s⁻¹", "strain": 0.8, "stress": 149}, {"rate": "0.001 s⁻¹", "strain": 0.9, "stress": 147}, {"rate": "0.001 s⁻¹", "strain": 0.95, "stress": 145}, {"rate": "0.001 s⁻¹", "strain": 1.05, "stress": 145}, {"rate": "0.001 s⁻¹", "strain": 1.15, "stress": 145}, {"rate": "0.001 s⁻¹", "strain": 1.18, "stress": 143}, {"rate": "0.001 s⁻¹", "strain": 1.21, "stress": 128}, {"rate": "0.001 s⁻¹", "strain": 1.23, "stress": 110}, {"rate": "0.001 s⁻¹", "strain": 1.245, "stress": 88}
    ],
    "g": [
      {"rate": "1 s⁻¹", "strain": 0, "stress": 0}, {"rate": "1 s⁻¹", "strain": 0.005, "stress": 15}, {"rate": "1 s⁻¹", "strain": 0.01, "stress": 28}, {"rate": "1 s⁻¹", "strain": 0.04, "stress": 29}, {"rate": "1 s⁻¹", "strain": 0.14, "stress": 27.5}, {"rate": "1 s⁻¹", "strain": 0.24, "stress": 26.5}, {"rate": "1 s⁻¹", "strain": 0.35, "stress": 25.5}, {"rate": "1 s⁻¹", "strain": 0.45, "stress": 25}, {"rate": "1 s⁻¹", "strain": 0.55, "stress": 25}, {"rate": "1 s⁻¹", "strain": 0.65, "stress": 25}, {"rate": "1 s⁻¹", "strain": 0.75, "stress": 26}, {"rate": "1 s⁻¹", "strain": 0.85, "stress": 27}, {"rate": "1 s⁻¹", "strain": 0.95, "stress": 28.5}, {"rate": "1 s⁻¹", "strain": 1.05, "stress": 30}, {"rate": "1 s⁻¹", "strain": 1.2, "stress": 33},
      {"rate": "0.1 s⁻¹", "strain": 0, "stress": 0}, {"rate": "0.1 s⁻¹", "strain": 0.005, "stress": 35}, {"rate": "0.1 s⁻¹", "strain": 0.01, "stress": 57}, {"rate": "0.1 s⁻¹", "strain": 0.04, "stress": 54}, {"rate": "0.1 s⁻¹", "strain": 0.14, "stress": 51}, {"rate": "0.1 s⁻¹", "strain": 0.24, "stress": 48}, {"rate": "0.1 s⁻¹", "strain": 0.35, "stress": 45}, {"rate": "0.1 s⁻¹", "strain": 0.45, "stress": 42}, {"rate": "0.1 s⁻¹", "strain": 0.55, "stress": 41}, {"rate": "0.1 s⁻¹", "strain": 0.65, "stress": 40.5}, {"rate": "0.1 s⁻¹", "strain": 0.75, "stress": 41.5}, {"rate": "0.1 s⁻¹", "strain": 0.85, "stress": 44}, {"rate": "0.1 s⁻¹", "strain": 0.95, "stress": 47}, {"rate": "0.1 s⁻¹", "strain": 1.05, "stress": 51}, {"rate": "0.1 s⁻¹", "strain": 1.15, "stress": 55}, {"rate": "0.1 s⁻¹", "strain": 1.19, "stress": 58},
      {"rate": "0.01 s⁻¹", "strain": 0, "stress": 0}, {"rate": "0.01 s⁻¹", "strain": 0.01, "stress": 60}, {"rate": "0.01 s⁻¹", "strain": 0.02, "stress": 105}, {"rate": "0.01 s⁻¹", "strain": 0.025, "stress": 114}, {"rate": "0.01 s⁻¹", "strain": 0.04, "stress": 104}, {"rate": "0.01 s⁻¹", "strain": 0.055, "stress": 98}, {"rate": "0.01 s⁻¹", "strain": 0.1, "stress": 98.5}, {"rate": "0.01 s⁻¹", "strain": 0.2, "stress": 94}, {"rate": "0.01 s⁻¹", "strain": 0.3, "stress": 89}, {"rate": "0.01 s⁻¹", "strain": 0.4, "stress": 84}, {"rate": "0.01 s⁻¹", "strain": 0.5, "stress": 79}, {"rate": "0.01 s⁻¹", "strain": 0.6, "stress": 75}, {"rate": "0.01 s⁻¹", "strain": 0.7, "stress": 72}, {"rate": "0.01 s⁻¹", "strain": 0.8, "stress": 70}, {"rate": "0.01 s⁻¹", "strain": 0.9, "stress": 69}, {"rate": "0.01 s⁻¹", "strain": 1.0, "stress": 70}, {"rate": "0.01 s⁻¹", "strain": 1.1, "stress": 72}, {"rate": "0.01 s⁻¹", "strain": 1.18, "stress": 75}, {"rate": "0.01 s⁻¹", "strain": 1.2, "stress": 74}, {"rate": "0.01 s⁻¹", "strain": 1.215, "stress": 70},
      {"rate": "0.001 s⁻¹", "strain": 0, "stress": 0}, {"rate": "0.001 s⁻¹", "strain": 0.01, "stress": 70}, {"rate": "0.001 s⁻¹", "strain": 0.02, "stress": 135}, {"rate": "0.001 s⁻¹", "strain": 0.03, "stress": 161}, {"rate": "0.001 s⁻¹", "strain": 0.045, "stress": 155}, {"rate": "0.001 s⁻¹", "strain": 0.055, "stress": 151}, {"rate": "0.001 s⁻¹", "strain": 0.09, "stress": 153}, {"rate": "0.001 s⁻¹", "strain": 0.2, "stress": 153}, {"rate": "0.001 s⁻¹", "strain": 0.3, "stress": 152}, {"rate": "0.001 s⁻¹", "strain": 0.4, "stress": 150}, {"rate": "0.001 s⁻¹", "strain": 0.5, "stress": 147}, {"rate": "0.001 s⁻¹", "strain": 0.6, "stress": 143}, {"rate": "0.001 s⁻¹", "strain": 0.7, "stress": 139}, {"rate": "0.001 s⁻¹", "strain": 0.8, "stress": 136}, {"rate": "0.001 s⁻¹", "strain": 0.9, "stress": 135}, {"rate": "0.001 s⁻¹", "strain": 1.0, "stress": 135}, {"rate": "0.001 s⁻¹", "strain": 1.1, "stress": 137}, {"rate": "0.001 s⁻¹", "strain": 1.15, "stress": 139}, {"rate": "0.001 s⁻¹", "strain": 1.18, "stress": 135}, {"rate": "0.001 s⁻¹", "strain": 1.2, "stress": 124}, {"rate": "0.001 s⁻¹", "strain": 1.205, "stress": 122}, {"rate": "0.001 s⁻¹", "strain": 1.21, "stress": 126}
    ],
    "h": [
      {"rate": "1 s⁻¹", "temp": 785, "stress": 91}, {"rate": "1 s⁻¹", "temp": 805, "stress": 70}, {"rate": "1 s⁻¹", "temp": 825, "stress": 53}, {"rate": "1 s⁻¹", "temp": 845, "stress": 48.6}, {"rate": "1 s⁻¹", "temp": 865, "stress": 38.5}, {"rate": "1 s⁻¹", "temp": 885, "stress": 33.5}, {"rate": "1 s⁻¹", "temp": 925, "stress": 28},
      {"rate": "0.1 s⁻¹", "temp": 785, "stress": 131}, {"rate": "0.1 s⁻¹", "temp": 805, "stress": 134}, {"rate": "0.1 s⁻¹", "temp": 825, "stress": 111.4}, {"rate": "0.1 s⁻¹", "temp": 845, "stress": 88}, {"rate": "0.1 s⁻¹", "temp": 865, "stress": 71}, {"rate": "0.1 s⁻¹", "temp": 885, "stress": 70.7}, {"rate": "0.1 s⁻¹", "temp": 925, "stress": 56.5},
      {"rate": "0.01 s⁻¹", "temp": 785, "stress": 246.5}, {"rate": "0.01 s⁻¹", "temp": 805, "stress": 202}, {"rate": "0.01 s⁻¹", "temp": 825, "stress": 178.5}, {"rate": "0.01 s⁻¹", "temp": 845, "stress": 166}, {"rate": "0.01 s⁻¹", "temp": 865, "stress": 143}, {"rate": "0.01 s⁻¹", "temp": 885, "stress": 128}, {"rate": "0.01 s⁻¹", "temp": 925, "stress": 113},
      {"rate": "0.001 s⁻¹", "temp": 785, "stress": 351}, {"rate": "0.001 s⁻¹", "temp": 805, "stress": 284}, {"rate": "0.001 s⁻¹", "temp": 825, "stress": 260}, {"rate": "0.001 s⁻¹", "temp": 845, "stress": 225}, {"rate": "0.001 s⁻¹", "temp": 865, "stress": 182}, {"rate": "0.001 s⁻¹", "temp": 885, "stress": 176.5}, {"rate": "0.001 s⁻¹", "temp": 925, "stress": 159}
    ],
    "i": [
      {"rate": "1 s⁻¹", "temp": 785, "stress": 47.6}, {"rate": "1 s⁻¹", "temp": 805, "stress": 45.3}, {"rate": "1 s⁻¹", "temp": 825, "stress": 39.6}, {"rate": "1 s⁻¹", "temp": 845, "stress": 35.9}, {"rate": "1 s⁻¹", "temp": 865, "stress": 30.3}, {"rate": "1 s⁻¹", "temp": 885, "stress": 29.8}, {"rate": "1 s⁻¹", "temp": 925, "stress": 26.5},
      {"rate": "0.1 s⁻¹", "temp": 785, "stress": 77.2}, {"rate": "0.1 s⁻¹", "temp": 805, "stress": 77.6}, {"rate": "0.1 s⁻¹", "temp": 825, "stress": 64.3}, {"rate": "0.1 s⁻¹", "temp": 845, "stress": 58.8}, {"rate": "0.1 s⁻¹", "temp": 865, "stress": 48}, {"rate": "0.1 s⁻¹", "temp": 885, "stress": 47.6}, {"rate": "0.1 s⁻¹", "temp": 925, "stress": 44.2},
      {"rate": "0.01 s⁻¹", "temp": 785, "stress": 129.8}, {"rate": "0.01 s⁻¹", "temp": 805, "stress": 110.6}, {"rate": "0.01 s⁻¹", "temp": 825, "stress": 105.4}, {"rate": "0.01 s⁻¹", "temp": 845, "stress": 102.7}, {"rate": "0.01 s⁻¹", "temp": 865, "stress": 99}, {"rate": "0.01 s⁻¹", "temp": 885, "stress": 81.8}, {"rate": "0.01 s⁻¹", "temp": 925, "stress": 69.5},
      {"rate": "0.001 s⁻¹", "temp": 785, "stress": 228}, {"rate": "0.001 s⁻¹", "temp": 805, "stress": 206.6}, {"rate": "0.001 s⁻¹", "temp": 825, "stress": 191}, {"rate": "0.001 s⁻¹", "temp": 845, "stress": 183.6}, {"rate": "0.001 s⁻¹", "temp": 865, "stress": 159.6}, {"rate": "0.001 s⁻¹", "temp": 885, "stress": 146}, {"rate": "0.001 s⁻¹", "temp": 925, "stress": 135}
    ]
  },
  "concat": [
    {
      "title": {"text": "(a)", "dx": 20},
      "width": 931, "height": 606,
      "layer": [
        {"data": {"name": "a"}, "mark": "line", "encoding": {
          "x": {"field": "strain", "type": "quantitative", "title": "True Strain", "scale": {"domain": [-0.037, 1.288], "nice": false, "zero": false}, "axis": {"values": [0, 0.1, 0.2, 0.3, 0.4, 0.5, 0.6, 0.7, 0.8, 0.9, 1.0, 1.1, 1.2], "tickSize": {"condition": {"test": "round(datum.value*10) % 2 === 0", "value": -9}, "value": -5}, "labelExpr": "round(datum.value*10) % 2 === 0 ? format(datum.value, '.1f') : ''"}},
          "y": {"field": "stress", "type": "quantitative", "title": "True Stress (MPa)", "scale": {"domain": [0, 400], "nice": false}, "axis": {"values": [0, 25, 50, 75, 100, 125, 150, 175, 200, 225, 250, 275, 300, 325, 350, 375, 400], "tickSize": {"condition": {"test": "datum.value % 50 === 0", "value": -9}, "value": -5}, "labelExpr": "datum.value % 50 === 0 ? datum.label : ''"}},
          "color": {"field": "rate", "type": "nominal", "scale": {"domain": ["1 s⁻¹", "0.1 s⁻¹", "0.01 s⁻¹", "0.001 s⁻¹"], "range": ["#555555", "#ff1f1f", "#1a68d4", "#17a06a"]}, "legend": {"title": null, "symbolType": "stroke", "symbolStrokeWidth": 6, "encode": {"symbols": {"update": {"strokeWidth": {"value": 6}}}}}}
        }},
        {"data": {"values": [{}]}, "mark": {"type": "rect", "fill": "white"}, "encoding": {"x": {"datum": 0.575, "title": "True Strain"}, "x2": {"datum": 0.902}, "y": {"datum": 312.9, "title": "True Stress (MPa)"}, "y2": {"datum": 390.1}}},
        {"data": {"values": [{}]}, "mark": {"type": "rect", "fill": "white", "stroke": "black", "strokeWidth": 3.5}, "encoding": {"x": {"datum": 0.606, "title": "True Strain"}, "x2": {"datum": 0.864}, "y": {"datum": 320.8, "title": "True Stress (MPa)"}, "y2": {"datum": 384.2}}},
        {"data": {"values": [{}]}, "mark": {"type": "text", "text": "785 °C", "fontSize": 54, "fontWeight": "bold", "font": "Liberation Serif", "color": "black"}, "encoding": {"x": {"datum": 0.734, "title": "True Strain"}, "y": {"datum": 352.5, "title": "True Stress (MPa)"}}}
      ]
    },
    {
      "title": {"text": "(b)", "dx": 4, "offset": -87},
      "width": 931, "height": 606,
      "layer": [
        {"data": {"name": "b"}, "mark": "line", "encoding": {
          "x": {"field": "strain", "type": "quantitative", "title": "True Strain", "scale": {"domain": [-0.038, 1.261], "nice": false, "zero": false}, "axis": {"values": [0, 0.1, 0.2, 0.3, 0.4, 0.5, 0.6, 0.7, 0.8, 0.9, 1.0, 1.1, 1.2], "tickSize": {"condition": {"test": "round(datum.value*10) % 2 === 0", "value": -9}, "value": -5}, "labelExpr": "round(datum.value*10) % 2 === 0 ? format(datum.value, '.1f') : ''"}},
          "y": {"field": "stress", "type": "quantitative", "title": "True Stress (MPa)", "scale": {"domain": [0, 400], "nice": false}, "axis": {"values": [0, 25, 50, 75, 100, 125, 150, 175, 200, 225, 250, 275, 300, 325, 350, 375, 400], "tickSize": {"condition": {"test": "datum.value % 50 === 0", "value": -9}, "value": -5}, "labelExpr": "datum.value % 50 === 0 ? datum.label : ''"}},
          "color": {"field": "rate", "type": "nominal", "scale": {"domain": ["1 s⁻¹", "0.1 s⁻¹", "0.01 s⁻¹", "0.001 s⁻¹"], "range": ["#555555", "#ff1f1f", "#1a68d4", "#17a06a"]}, "legend": {"title": null, "symbolType": "stroke", "symbolStrokeWidth": 6, "encode": {"symbols": {"update": {"strokeWidth": {"value": 6}}}}}}
        }},
        {"data": {"values": [{}]}, "mark": {"type": "rect", "fill": "white"}, "encoding": {"x": {"datum": 0.562, "title": "True Strain"}, "x2": {"datum": 0.883}, "y": {"datum": 312.9, "title": "True Stress (MPa)"}, "y2": {"datum": 399}}},
        {"data": {"values": [{}]}, "mark": {"type": "rect", "fill": "white", "stroke": "black", "strokeWidth": 3.5}, "encoding": {"x": {"datum": 0.593, "title": "True Strain"}, "x2": {"datum": 0.845}, "y": {"datum": 320.8, "title": "True Stress (MPa)"}, "y2": {"datum": 384.2}}},
        {"data": {"values": [{}]}, "mark": {"type": "text", "text": "805 °C", "fontSize": 54, "fontWeight": "bold", "font": "Liberation Serif", "color": "black"}, "encoding": {"x": {"datum": 0.719, "title": "True Strain"}, "y": {"datum": 352.5, "title": "True Stress (MPa)"}}}
      ]
    },
    {
      "title": {"text": "(c)", "dx": 20},
      "width": 931, "height": 606,
      "layer": [
        {"data": {"name": "c"}, "mark": "line", "encoding": {
          "x": {"field": "strain", "type": "quantitative", "title": "True Strain", "scale": {"domain": [-0.036, 1.263], "nice": false, "zero": false}, "axis": {"values": [0, 0.1, 0.2, 0.3, 0.4, 0.5, 0.6, 0.7, 0.8, 0.9, 1.0, 1.1, 1.2], "tickSize": {"condition": {"test": "round(datum.value*10) % 2 === 0", "value": -9}, "value": -5}, "labelExpr": "round(datum.value*10) % 2 === 0 ? format(datum.value, '.1f') : ''"}},
          "y": {"field": "stress", "type": "quantitative", "title": "True Stress (MPa)", "scale": {"domain": [0, 400], "nice": false}, "axis": {"values": [0, 25, 50, 75, 100, 125, 150, 175, 200, 225, 250, 275, 300, 325, 350, 375, 400], "tickSize": {"condition": {"test": "datum.value % 50 === 0", "value": -9}, "value": -5}, "labelExpr": "datum.value % 50 === 0 ? datum.label : ''"}},
          "color": {"field": "rate", "type": "nominal", "scale": {"domain": ["1 s⁻¹", "0.1 s⁻¹", "0.01 s⁻¹", "0.001 s⁻¹"], "range": ["#555555", "#ff1f1f", "#1a68d4", "#17a06a"]}, "legend": {"title": null, "symbolType": "stroke", "symbolStrokeWidth": 6, "encode": {"symbols": {"update": {"strokeWidth": {"value": 6}}}}}}
        }},
        {"data": {"values": [{}]}, "mark": {"type": "rect", "fill": "white"}, "encoding": {"x": {"datum": 0.564, "title": "True Strain"}, "x2": {"datum": 0.885}, "y": {"datum": 312.9, "title": "True Stress (MPa)"}, "y2": {"datum": 390.1}}},
        {"data": {"values": [{}]}, "mark": {"type": "rect", "fill": "white", "stroke": "black", "strokeWidth": 3.5}, "encoding": {"x": {"datum": 0.595, "title": "True Strain"}, "x2": {"datum": 0.847}, "y": {"datum": 320.8, "title": "True Stress (MPa)"}, "y2": {"datum": 384.2}}},
        {"data": {"values": [{}]}, "mark": {"type": "text", "text": "825 °C", "fontSize": 54, "fontWeight": "bold", "font": "Liberation Serif", "color": "black"}, "encoding": {"x": {"datum": 0.721, "title": "True Strain"}, "y": {"datum": 352.5, "title": "True Stress (MPa)"}}}
      ]
    },
    {
      "title": {"text": "(d)", "dx": 18},
      "width": 931, "height": 606,
      "layer": [
        {"data": {"name": "d"}, "mark": "line", "encoding": {
          "x": {"field": "strain", "type": "quantitative", "title": "True Strain", "scale": {"domain": [-0.04, 1.296], "nice": false, "zero": false}, "axis": {"values": [0, 0.1, 0.2, 0.3, 0.4, 0.5, 0.6, 0.7, 0.8, 0.9, 1.0, 1.1, 1.2], "tickSize": {"condition": {"test": "round(datum.value*10) % 2 === 0", "value": -9}, "value": -5}, "labelExpr": "round(datum.value*10) % 2 === 0 ? format(datum.value, '.1f') : ''"}},
          "y": {"field": "stress", "type": "quantitative", "title": "True Stress (MPa)", "scale": {"domain": [0, 400], "nice": false}, "axis": {"values": [0, 25, 50, 75, 100, 125, 150, 175, 200, 225, 250, 275, 300, 325, 350, 375, 400], "tickSize": {"condition": {"test": "datum.value % 50 === 0", "value": -9}, "value": -5}, "labelExpr": "datum.value % 50 === 0 ? datum.label : ''"}},
          "color": {"field": "rate", "type": "nominal", "scale": {"domain": ["1 s⁻¹", "0.1 s⁻¹", "0.01 s⁻¹", "0.001 s⁻¹"], "range": ["#555555", "#ff1f1f", "#1a68d4", "#17a06a"]}, "legend": {"title": null, "symbolType": "stroke", "symbolStrokeWidth": 6, "encode": {"symbols": {"update": {"strokeWidth": {"value": 6}}}}}}
        }},
        {"data": {"values": [{}]}, "mark": {"type": "rect", "fill": "white"}, "encoding": {"x": {"datum": 0.577, "title": "True Strain"}, "x2": {"datum": 0.907}, "y": {"datum": 312.9, "title": "True Stress (MPa)"}, "y2": {"datum": 390.1}}},
        {"data": {"values": [{}]}, "mark": {"type": "rect", "fill": "white", "stroke": "black", "strokeWidth": 3.5}, "encoding": {"x": {"datum": 0.609, "title": "True Strain"}, "x2": {"datum": 0.868}, "y": {"datum": 320.8, "title": "True Stress (MPa)"}, "y2": {"datum": 384.2}}},
        {"data": {"values": [{}]}, "mark": {"type": "text", "text": "845 °C", "fontSize": 54, "fontWeight": "bold", "font": "Liberation Serif", "color": "black"}, "encoding": {"x": {"datum": 0.738, "title": "True Strain"}, "y": {"datum": 352.5, "title": "True Stress (MPa)"}}}
      ]
    },
    {
      "title": {"text": "(e)", "dx": 22},
      "width": 931, "height": 606,
      "layer": [
        {"data": {"name": "e"}, "mark": "line", "encoding": {
          "x": {"field": "strain", "type": "quantitative", "title": "True Strain", "scale": {"domain": [-0.038, 1.266], "nice": false, "zero": false}, "axis": {"values": [0, 0.1, 0.2, 0.3, 0.4, 0.5, 0.6, 0.7, 0.8, 0.9, 1.0, 1.1, 1.2], "tickSize": {"condition": {"test": "round(datum.value*10) % 2 === 0", "value": -9}, "value": -5}, "labelExpr": "round(datum.value*10) % 2 === 0 ? format(datum.value, '.1f') : ''"}},
          "y": {"field": "stress", "type": "quantitative", "title": "True Stress (MPa)", "scale": {"domain": [0, 400], "nice": false}, "axis": {"values": [0, 25, 50, 75, 100, 125, 150, 175, 200, 225, 250, 275, 300, 325, 350, 375, 400], "tickSize": {"condition": {"test": "datum.value % 50 === 0", "value": -9}, "value": -5}, "labelExpr": "datum.value % 50 === 0 ? datum.label : ''"}},
          "color": {"field": "rate", "type": "nominal", "scale": {"domain": ["1 s⁻¹", "0.1 s⁻¹", "0.01 s⁻¹", "0.001 s⁻¹"], "range": ["#555555", "#ff1f1f", "#1a68d4", "#17a06a"]}, "legend": {"title": null, "symbolType": "stroke", "symbolStrokeWidth": 6, "encode": {"symbols": {"update": {"strokeWidth": {"value": 6}}}}}}
        }},
        {"data": {"values": [{}]}, "mark": {"type": "rect", "fill": "white"}, "encoding": {"x": {"datum": 0.564, "title": "True Strain"}, "x2": {"datum": 0.886}, "y": {"datum": 312.9, "title": "True Stress (MPa)"}, "y2": {"datum": 390.1}}},
        {"data": {"values": [{}]}, "mark": {"type": "rect", "fill": "white", "stroke": "black", "strokeWidth": 3.5}, "encoding": {"x": {"datum": 0.595, "title": "True Strain"}, "x2": {"datum": 0.849}, "y": {"datum": 320.8, "title": "True Stress (MPa)"}, "y2": {"datum": 384.2}}},
        {"data": {"values": [{}]}, "mark": {"type": "text", "text": "865 °C", "fontSize": 54, "fontWeight": "bold", "font": "Liberation Serif", "color": "black"}, "encoding": {"x": {"datum": 0.721, "title": "True Strain"}, "y": {"datum": 352.5, "title": "True Stress (MPa)"}}}
      ]
    },
    {
      "title": {"text": "(f)", "dx": 14},
      "width": 931, "height": 606,
      "layer": [
        {"data": {"name": "f"}, "mark": "line", "encoding": {
          "x": {"field": "strain", "type": "quantitative", "title": "True Strain", "scale": {"domain": [-0.03, 1.3], "nice": false, "zero": false}, "axis": {"values": [0, 0.1, 0.2, 0.3, 0.4, 0.5, 0.6, 0.7, 0.8, 0.9, 1.0, 1.1, 1.2], "tickSize": {"condition": {"test": "round(datum.value*10) % 2 === 0", "value": -9}, "value": -5}, "labelExpr": "round(datum.value*10) % 2 === 0 ? format(datum.value, '.1f') : ''"}},
          "y": {"field": "stress", "type": "quantitative", "title": "True Stress (MPa)", "scale": {"domain": [0, 400], "nice": false}, "axis": {"values": [0, 25, 50, 75, 100, 125, 150, 175, 200, 225, 250, 275, 300, 325, 350, 375, 400], "tickSize": {"condition": {"test": "datum.value % 50 === 0", "value": -9}, "value": -5}, "labelExpr": "datum.value % 50 === 0 ? datum.label : ''"}},
          "color": {"field": "rate", "type": "nominal", "scale": {"domain": ["1 s⁻¹", "0.1 s⁻¹", "0.01 s⁻¹", "0.001 s⁻¹"], "range": ["#555555", "#ff1f1f", "#1a68d4", "#17a06a"]}, "legend": {"title": null, "symbolType": "stroke", "symbolStrokeWidth": 6, "encode": {"symbols": {"update": {"strokeWidth": {"value": 6}}}}}}
        }},
        {"data": {"values": [{}]}, "mark": {"type": "rect", "fill": "white"}, "encoding": {"x": {"datum": 0.584, "title": "True Strain"}, "x2": {"datum": 0.913}, "y": {"datum": 312.9, "title": "True Stress (MPa)"}, "y2": {"datum": 390.1}}},
        {"data": {"values": [{}]}, "mark": {"type": "rect", "fill": "white", "stroke": "black", "strokeWidth": 3.5}, "encoding": {"x": {"datum": 0.616, "title": "True Strain"}, "x2": {"datum": 0.874}, "y": {"datum": 320.8, "title": "True Stress (MPa)"}, "y2": {"datum": 384.2}}},
        {"data": {"values": [{}]}, "mark": {"type": "text", "text": "885 °C", "fontSize": 54, "fontWeight": "bold", "font": "Liberation Serif", "color": "black"}, "encoding": {"x": {"datum": 0.745, "title": "True Strain"}, "y": {"datum": 352.5, "title": "True Stress (MPa)"}}}
      ]
    },
    {
      "title": {"text": "(g)", "dx": 20},
      "width": 931, "height": 606,
      "layer": [
        {"data": {"name": "g"}, "mark": "line", "encoding": {
          "x": {"field": "strain", "type": "quantitative", "title": "True Strain", "scale": {"domain": [-0.038, 1.255], "nice": false, "zero": false}, "axis": {"values": [0, 0.1, 0.2, 0.3, 0.4, 0.5, 0.6, 0.7, 0.8, 0.9, 1.0, 1.1, 1.2], "tickSize": {"condition": {"test": "round(datum.value*10) % 2 === 0", "value": -9}, "value": -5}, "labelExpr": "round(datum.value*10) % 2 === 0 ? format(datum.value, '.1f') : ''"}},
          "y": {"field": "stress", "type": "quantitative", "title": "True Stress (MPa)", "scale": {"domain": [0, 400], "nice": false}, "axis": {"values": [0, 25, 50, 75, 100, 125, 150, 175, 200, 225, 250, 275, 300, 325, 350, 375, 400], "tickSize": {"condition": {"test": "datum.value % 50 === 0", "value": -9}, "value": -5}, "labelExpr": "datum.value % 50 === 0 ? datum.label : ''"}},
          "color": {"field": "rate", "type": "nominal", "scale": {"domain": ["1 s⁻¹", "0.1 s⁻¹", "0.01 s⁻¹", "0.001 s⁻¹"], "range": ["#555555", "#ff1f1f", "#1a68d4", "#17a06a"]}, "legend": {"title": null, "symbolType": "stroke", "symbolStrokeWidth": 6, "encode": {"symbols": {"update": {"strokeWidth": {"value": 6}}}}}}
        }},
        {"data": {"values": [{}]}, "mark": {"type": "rect", "fill": "white"}, "encoding": {"x": {"datum": 0.559, "title": "True Strain"}, "x2": {"datum": 0.879}, "y": {"datum": 312.9, "title": "True Stress (MPa)"}, "y2": {"datum": 390.1}}},
        {"data": {"values": [{}]}, "mark": {"type": "rect", "fill": "white", "stroke": "black", "strokeWidth": 3.5}, "encoding": {"x": {"datum": 0.59, "title": "True Strain"}, "x2": {"datum": 0.841}, "y": {"datum": 320.8, "title": "True Stress (MPa)"}, "y2": {"datum": 384.2}}},
        {"data": {"values": [{}]}, "mark": {"type": "text", "text": "925 °C", "fontSize": 54, "fontWeight": "bold", "font": "Liberation Serif", "color": "black"}, "encoding": {"x": {"datum": 0.715, "title": "True Strain"}, "y": {"datum": 352.5, "title": "True Stress (MPa)"}}}
      ]
    },
    {
      "title": {"text": "(h)", "dx": 72, "offset": -110},
      "width": 931, "height": 606,
      "data": {"name": "h"},
      "encoding": {
        "x": {"field": "temp", "type": "quantitative", "title": "Temperature (°C)", "scale": {"domain": [781, 926.4], "nice": false, "zero": false}, "axis": {"values": [790, 800, 810, 820, 830, 840, 850, 860, 870, 880, 890, 900, 910, 920], "tickSize": {"condition": {"test": "datum.value % 20 === 0", "value": -9}, "value": -5}, "labelExpr": "datum.value % 20 === 0 ? datum.label : ''"}},
        "y": {"field": "stress", "type": "quantitative", "title": "Peak Stress (MPa)", "scale": {"domain": [0, 400], "nice": false}, "axis": {"values": [0, 25, 50, 75, 100, 125, 150, 175, 200, 225, 250, 275, 300, 325, 350, 375, 400], "tickSize": {"condition": {"test": "datum.value % 50 === 0", "value": -9}, "value": -5}, "labelExpr": "datum.value % 50 === 0 ? datum.label : ''"}}
      },
      "layer": [
        {"mark": "line", "encoding": {"color": {"field": "rate", "type": "nominal", "scale": {"domain": ["1 s⁻¹", "0.1 s⁻¹", "0.01 s⁻¹", "0.001 s⁻¹"], "range": ["#555555", "#ff1f1f", "#1a68d4", "#17a06a"]}, "legend": {"title": null, "symbolType": "stroke", "symbolStrokeWidth": 6, "encode": {"symbols": {"update": {"strokeWidth": {"value": 6}}}}}}}},
        {"mark": {"type": "point", "filled": true, "size": 260, "opacity": 1}, "encoding": {
          "color": {"field": "rate", "type": "nominal", "scale": {"domain": ["1 s⁻¹", "0.1 s⁻¹", "0.01 s⁻¹", "0.001 s⁻¹"], "range": ["#555555", "#ff1f1f", "#1a68d4", "#17a06a"]}, "legend": null},
          "shape": {"field": "rate", "type": "nominal", "scale": {"domain": ["0.001 s⁻¹", "0.01 s⁻¹", "0.1 s⁻¹", "1 s⁻¹"], "range": ["triangle-down", "triangle-up", "circle", "square"]}, "legend": null}
        }}
      ]
    },
    {
      "title": {"text": "(i)", "dx": 58, "offset": -90},
      "width": 931, "height": 606,
      "data": {"name": "i"},
      "encoding": {
        "x": {"field": "temp", "type": "quantitative", "title": "Temperature (°C)", "scale": {"domain": [781, 927.6], "nice": false, "zero": false}, "axis": {"values": [790, 800, 810, 820, 830, 840, 850, 860, 870, 880, 890, 900, 910, 920], "tickSize": {"condition": {"test": "datum.value % 20 === 0", "value": -9}, "value": -5}, "labelExpr": "datum.value % 20 === 0 ? datum.label : ''"}},
        "y": {"field": "stress", "type": "quantitative", "title": "Steady Stress (MPa)", "scale": {"domain": [0, 250], "nice": false}, "axis": {"values": [0, 25, 50, 75, 100, 125, 150, 175, 200, 225, 250], "tickSize": {"condition": {"test": "datum.value % 50 === 0", "value": -9}, "value": -5}, "labelExpr": "datum.value % 50 === 0 ? datum.label : ''"}}
      },
      "layer": [
        {"mark": "line", "encoding": {"color": {"field": "rate", "type": "nominal", "scale": {"domain": ["1 s⁻¹", "0.1 s⁻¹", "0.01 s⁻¹", "0.001 s⁻¹"], "range": ["#555555", "#ff1f1f", "#1a68d4", "#17a06a"]}, "legend": {"title": null, "symbolType": "stroke", "symbolStrokeWidth": 6, "encode": {"symbols": {"update": {"strokeWidth": {"value": 6}}}}}}}},
        {"mark": {"type": "point", "filled": true, "size": 260, "opacity": 1}, "encoding": {
          "color": {"field": "rate", "type": "nominal", "scale": {"domain": ["1 s⁻¹", "0.1 s⁻¹", "0.01 s⁻¹", "0.001 s⁻¹"], "range": ["#555555", "#ff1f1f", "#1a68d4", "#17a06a"]}, "legend": null},
          "shape": {"field": "rate", "type": "nominal", "scale": {"domain": ["0.001 s⁻¹", "0.01 s⁻¹", "0.1 s⁻¹", "1 s⁻¹"], "range": ["triangle-down", "triangle-up", "circle", "square"]}, "legend": null}
        }}
      ]
    }
  ],
  "config": {
    "font": "Liberation Serif",
    "view": {
      "stroke": "black",
      "strokeWidth": 3.5,
      "fill": {"gradient": "linear", "x1": 0, "y1": 0, "x2": 0, "y2": 1, "stops": [{"offset": 0, "color": "#a4d5f8"}, {"offset": 1, "color": "#ffffff"}]}
    },
    "axis": {
      "domain": false,
      "grid": false,
      "labelFont": "Liberation Serif",
      "labelFontSize": 50,
      "labelFontWeight": "bold",
      "labelColor": "black",
      "labelFlush": false,
      "labelOverlap": false,
      "titleFont": "Liberation Serif",
      "titleFontSize": 54,
      "titleFontWeight": "bold",
      "titleColor": "black",
      "tickColor": "black",
      "tickWidth": 3
    },
    "axisX": {"labelPadding": 8, "titlePadding": 0},
    "axisY": {"labelPadding": 10, "titlePadding": 8},
    "legend": {
      "orient": "top-right",
      "offset": 16,
      "padding": 11,
      "fillColor": "white",
      "labelFont": "Liberation Serif",
      "labelFontSize": 46,
      "labelFontWeight": "bold",
      "labelColor": "black",
      "labelOffset": 7,
      "labelLimit": 0,
      "symbolType": "stroke",
      "symbolStrokeWidth": 6,
      "symbolSize": 5300,
      "clipHeight": 46,
      "rowPadding": 3.5
    },
    "title": {
      "anchor": "start",
      "frame": "group",
      "font": "Liberation Serif",
      "fontSize": 60,
      "fontWeight": "bold",
      "color": "black",
      "offset": -94
    },
    "line": {"strokeWidth": 4}
  }
}
